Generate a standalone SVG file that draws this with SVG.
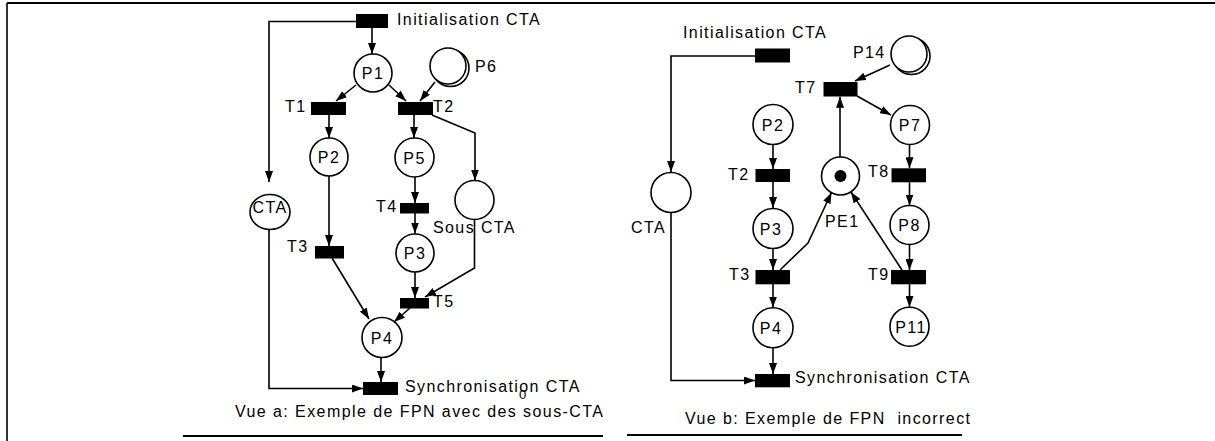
<svg xmlns="http://www.w3.org/2000/svg" width="1215" height="441" viewBox="0 0 1215 441">
<style>
text{font-family:"Liberation Sans",Arial,sans-serif;font-size:16px;letter-spacing:1.4px;fill:#000}
.c{text-anchor:middle}
.pl{fill:#fff;stroke:#000;stroke-width:1.6}
.tr{fill:#000}
.ar{fill:none;stroke:#000;stroke-width:1.6;marker-end:url(#ah)}
.ln{fill:none;stroke:#000;stroke-width:1.6}
</style>
<defs>
<marker id="ah" markerUnits="userSpaceOnUse" markerWidth="11" markerHeight="8" refX="11" refY="4" orient="auto">
<path d="M0,0 L11,4 L0,8 z" fill="#000"/>
</marker>
</defs>
<rect width="1215" height="441" fill="#fff"/>
<g id="frame">
<line x1="7" y1="3" x2="1215" y2="3" stroke="#000" stroke-width="2"/>
<line x1="7" y1="3" x2="7" y2="441" stroke="#000" stroke-width="1.6"/>
</g>
<g id="connectors">
<!-- left -->
<path class="ar" d="M372,28 V54"/>
<path class="ar" d="M356,85 L336,101"/>
<path class="ar" d="M389,85 L406,101"/>
<path class="ar" d="M435,82 L420,101"/>
<path class="ar" d="M329,115 V138"/>
<path class="ar" d="M414,115 V138"/>
<path class="ar" d="M432,115 L475,133 V180.5"/>
<path class="ar" d="M415,177 V203"/>
<path class="ar" d="M415,213 V233.5"/>
<path class="ar" d="M415,272 V298"/>
<path class="ar" d="M474.5,219.5 V268 L425,297"/>
<path class="ar" d="M329,176 V246"/>
<path class="ar" d="M332,258 L369,319"/>
<path class="ar" d="M410,308 L394,322"/>
<path class="ar" d="M381,357 V382"/>
<path class="ar" d="M356,21.5 H269 V182"/>
<path class="ar" d="M269,229 V388.5 H363"/>
<!-- right -->
<path class="ar" d="M755,56 H671 V172"/>
<path class="ar" d="M671,212.5 V380.5 H755"/>
<path class="ar" d="M773,144 V169"/>
<path class="ar" d="M773,182 V208"/>
<path class="ar" d="M773,248 V270"/>
<path class="ar" d="M773,284 V307.5"/>
<path class="ar" d="M773,348 V374"/>
<path class="ar" d="M780,270 L808,243 L831.5,192.5"/>
<path class="ar" d="M840,157 V96.7"/>
<path class="ar" d="M890,65 L855,81"/>
<path class="ar" d="M857,96 L891,115"/>
<path class="ar" d="M909.5,144.5 V168.3"/>
<path class="ar" d="M909.5,182.3 V205.5"/>
<path class="ar" d="M909.5,244.5 V270"/>
<path class="ar" d="M909.5,284.3 V307"/>
<path class="ar" d="M902,270 L851,192"/>
</g>
<!-- left diagram nodes -->
<g id="a_init"><rect class="tr" x="356" y="14" width="32" height="14"/><text x="397" y="25">Initialisation CTA</text></g>
<g id="a_P1"><circle class="pl" cx="373" cy="73" r="19"/><text class="c" x="373" y="79">P1</text></g>
<g id="a_P6"><circle class="pl" cx="450.5" cy="68" r="18.5"/><circle class="pl" cx="448" cy="66" r="18"/><text x="475" y="72">P6</text></g>
<g id="a_T1"><rect class="tr" x="311" y="102" width="35" height="13"/><text x="285" y="112">T1</text></g>
<g id="a_T2"><rect class="tr" x="398" y="102" width="35" height="13"/><text x="433" y="112">T2</text></g>
<g id="a_P2"><circle class="pl" cx="329" cy="157" r="19"/><text class="c" x="329" y="163">P2</text></g>
<g id="a_P5"><circle class="pl" cx="414.5" cy="157.5" r="19.5"/><text class="c" x="414.5" y="163.5">P5</text></g>
<g id="a_CTA"><ellipse class="pl" cx="270" cy="212" rx="20" ry="17.5"/><text class="c" x="270" y="213">CTA</text></g>
<g id="a_sous"><circle class="pl" cx="474.5" cy="200" r="19.5"/><text x="433" y="233">Sous CTA</text></g>
<g id="a_T4"><rect class="tr" x="400" y="203" width="29" height="10.5"/><text x="376" y="212">T4</text></g>
<g id="a_P3"><circle class="pl" cx="415" cy="253" r="19"/><text class="c" x="415" y="259">P3</text></g>
<g id="a_T3"><rect class="tr" x="315" y="246" width="29" height="12.5"/><text x="287" y="252">T3</text></g>
<g id="a_T5"><rect class="tr" x="400" y="298" width="29" height="10.5"/><text x="433" y="307">T5</text></g>
<g id="a_P4"><circle class="pl" cx="382" cy="337.5" r="20"/><text class="c" x="382" y="343.5">P4</text></g>
<g id="a_sync"><rect class="tr" x="363" y="382" width="35" height="13"/><text x="405" y="392">Synchronisation CTA</text><text x="519" y="399" style="font-size:13px;letter-spacing:0">0</text></g>
<g id="a_caption"><text x="235" y="417" textLength="368" lengthAdjust="spacing" style="letter-spacing:0">Vue a: Exemple de FPN avec des sous-CTA</text><line x1="183" y1="436" x2="603" y2="436" stroke="#000" stroke-width="1.8"/></g>
<!-- right diagram nodes -->
<g id="b_init"><rect class="tr" x="755" y="48.5" width="35" height="14"/><text x="683" y="38">Initialisation CTA</text></g>
<g id="b_P14"><circle class="pl" cx="911.5" cy="56" r="18.5"/><circle class="pl" cx="909" cy="54" r="18"/><text x="853" y="58">P14</text></g>
<g id="b_T7"><rect class="tr" x="823.5" y="82" width="34" height="14.5"/><text x="795" y="93">T7</text></g>
<g id="b_P2"><circle class="pl" cx="773" cy="124.5" r="20"/><text class="c" x="773" y="130.5">P2</text></g>
<g id="b_P7"><circle class="pl" cx="910" cy="125" r="19.5"/><text class="c" x="910" y="131">P7</text></g>
<g id="b_T2"><rect class="tr" x="755.5" y="169" width="34.5" height="13"/><text x="728" y="180">T2</text></g>
<g id="b_PE1"><circle class="pl" cx="840.5" cy="176" r="19"/><circle cx="840.5" cy="176" r="6" fill="#000"/><text x="825" y="227">PE1</text></g>
<g id="b_T8"><rect class="tr" x="891.5" y="168.3" width="34.5" height="14"/><text x="868" y="177">T8</text></g>
<g id="b_CTA"><circle class="pl" cx="671" cy="192.5" r="20"/><text x="631" y="233">CTA</text></g>
<g id="b_P3"><circle class="pl" cx="773" cy="228.5" r="20"/><text class="c" x="771" y="234.5">P3</text></g>
<g id="b_P8"><circle class="pl" cx="909.5" cy="225" r="19.5"/><text class="c" x="909.5" y="231">P8</text></g>
<g id="b_T3"><rect class="tr" x="755.5" y="270" width="34.5" height="14.3"/><text x="729" y="280">T3</text></g>
<g id="b_T9"><rect class="tr" x="891" y="270" width="35" height="14.3"/><text x="868" y="280">T9</text></g>
<g id="b_P4"><circle class="pl" cx="773" cy="327.7" r="20"/><text class="c" x="771" y="333.7">P4</text></g>
<g id="b_P11"><circle class="pl" cx="909.5" cy="326.7" r="19.5"/><text class="c" x="911" y="332.7">P11</text></g>
<g id="b_sync"><rect class="tr" x="755" y="374" width="35" height="13.3"/><text x="795" y="383">Synchronisation CTA</text></g>
<g id="b_caption"><text x="685" y="424" xml:space="preserve" textLength="285" lengthAdjust="spacing" style="letter-spacing:0">Vue b: Exemple de FPN  incorrect</text><line x1="627" y1="435" x2="962" y2="435" stroke="#000" stroke-width="1.8"/></g>
</svg>
